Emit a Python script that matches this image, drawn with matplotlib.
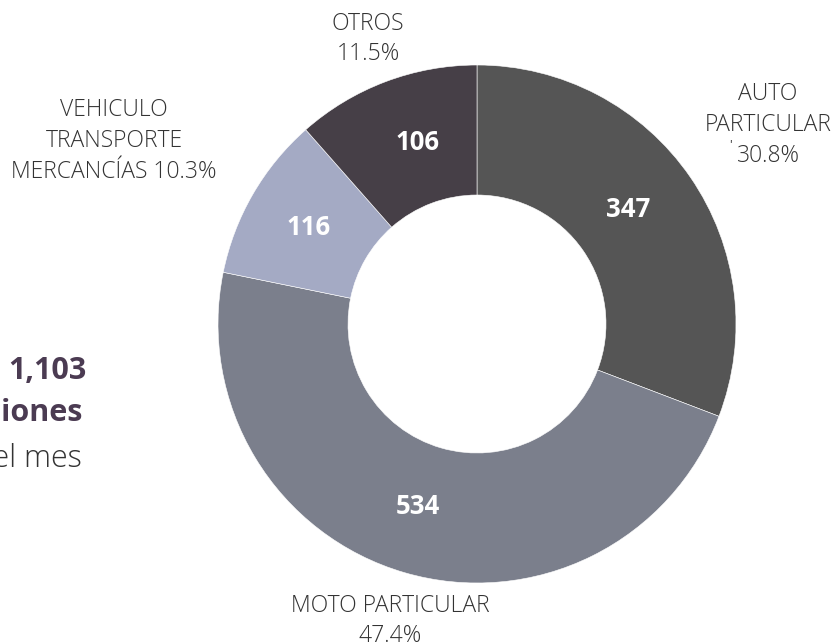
import matplotlib
matplotlib.use("Agg")
import matplotlib.pyplot as plt

plt.rcParams['font.family'] = ['Open Sans', 'DejaVu Sans']

# data
categories = ['AUTO\nPARTICULAR', 'MOTO PARTICULAR', 'VEHICULO\nTRANSPORTE\nMERCANCÍAS', 'OTROS']
values = [347, 534, 116, 106]
shares = [30.8, 47.4, 10.3, 11.5]
colors = ['#555555', '#7b7f8c', '#a4aac4', '#463f47']
total_text = ['1,103', 'infracciones', 'en el mes']

W, H = 835, 644
fig = plt.figure(figsize=(W / 100, H / 100), dpi=100)
ax = fig.add_axes([0, 0, 1, 1])

cx, cy, R = 477, H - 324, 259
wedges, _ = ax.pie(shares, colors=colors, startangle=90, counterclock=False,
                   center=(cx, cy), radius=R,
                   wedgeprops=dict(width=130, edgecolor='white', linewidth=0.4))
ax.set_xlim(0, W)
ax.set_ylim(0, H)
ax.set_aspect('equal')
ax.axis('off')

# value labels inside the ring
val_pos = [(628, 209), (418, 506), (309, 227), (418, 142)]
for v, (x, y) in zip(values, val_pos):
    ax.text(x, H - y, str(v), color='white', fontsize=18.5, fontweight='bold',
            ha='center', va='center')

# outside labels
out_txt = []
for c, s in zip(categories, shares):
    sep = ' ' if c.startswith('VEHICULO') else '\n'
    out_txt.append(f'{c}{sep}{s:.1f}%')
out_pos = [(768, 125), (390, 621), (114, 141), (368, 39)]
for t, (x, y) in zip(out_txt, out_pos):
    ax.text(x, H - y, t, color='#333333', fontsize=16.5, fontweight='light',
            ha='center', va='center', linespacing=1.38)
ax.text(730, H - 145, "'", color='#333333', fontsize=9, ha='center', va='center')

# total block, partly cut at the left edge
ax.text(87, H - 371, total_text[0], color='#4b3b52', fontsize=22,
        fontweight='bold', ha='right', va='center')
ax.text(83, H - 413, total_text[1], color='#4b3b52', fontsize=22,
        fontweight='bold', ha='right', va='center')
ax.text(82, H - 459, total_text[2], color='#333333', fontsize=22,
        fontweight='light', ha='right', va='center')

fig.savefig('out.png', dpi=100)
